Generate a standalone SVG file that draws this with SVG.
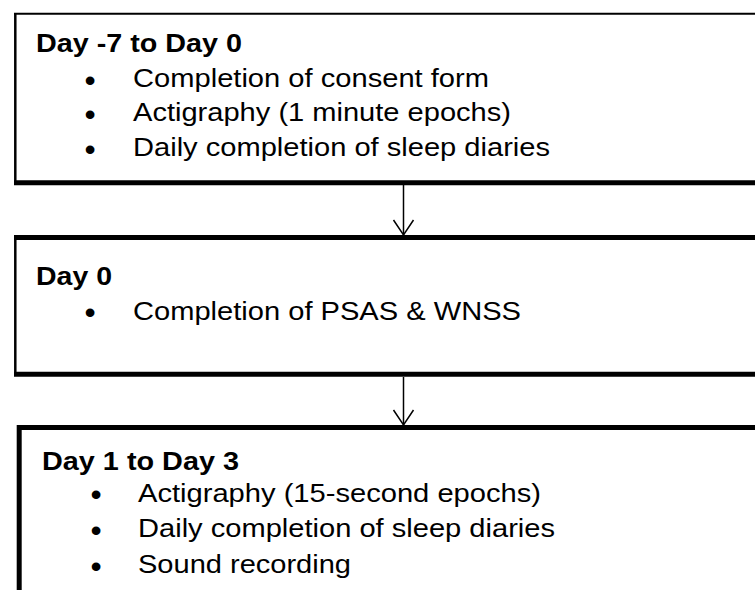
<svg xmlns="http://www.w3.org/2000/svg" width="755" height="590" viewBox="0 0 755 590">
<style>
.edge{stroke:#000;fill:none}
.t{font-family:"Liberation Sans",Arial,Helvetica,sans-serif;font-size:25px;fill:#000}
.b{font-weight:bold}
.bu{font-family:"Liberation Sans",Arial,Helvetica,sans-serif;font-size:32px;fill:#000}
.conn{stroke:#000;stroke-width:1.5;fill:none}
</style>
<defs>
<marker id="arr" viewBox="-16 -12 18 24" refX="0" refY="0" markerWidth="18" markerHeight="24" markerUnits="userSpaceOnUse" orient="auto">
<path d="M -15 -10 L 0 0 L -15 10" fill="none" stroke="#000" stroke-width="1.5"/>
</marker>
</defs>
<rect width="755" height="590" fill="#fff"/>
<g id="node-day-7">
<rect x="15" y="13.5" width="760" height="169" fill="#fff"/>
<line class="edge" x1="14" y1="13.7" x2="760" y2="13.7" stroke-width="2"/>
<line class="edge" x1="15.3" y1="13" x2="15.3" y2="183" stroke-width="2.5"/>
<line class="edge" x1="14" y1="182.7" x2="760" y2="182.7" stroke-width="5"/>
<text class="t b" x="36" y="51.5" textLength="206" lengthAdjust="spacingAndGlyphs">Day -7 to Day 0</text>
<text class="bu" x="84.4" y="90.7">•</text>
<text class="t" x="133" y="86.5" textLength="356" lengthAdjust="spacingAndGlyphs">Completion of consent form</text>
<text class="bu" x="84.4" y="125.2">•</text>
<text class="t" x="133" y="121" textLength="378" lengthAdjust="spacingAndGlyphs">Actigraphy (1 minute epochs)</text>
<text class="bu" x="84.4" y="159.7">•</text>
<text class="t" x="133" y="155.5" textLength="417" lengthAdjust="spacingAndGlyphs">Daily completion of sleep diaries</text>
</g>
<g id="node-day0">
<rect x="15" y="237.5" width="760" height="137" fill="#fff"/>
<line class="edge" x1="14" y1="237.5" x2="760" y2="237.5" stroke-width="5"/>
<line class="edge" x1="15.3" y1="237" x2="15.3" y2="375" stroke-width="2.5"/>
<line class="edge" x1="14" y1="374.2" x2="760" y2="374.2" stroke-width="5"/>
<text class="t b" x="36" y="285" textLength="76" lengthAdjust="spacingAndGlyphs">Day 0</text>
<text class="bu" x="84.4" y="322.7">•</text>
<text class="t" x="133" y="319.5" textLength="388" lengthAdjust="spacingAndGlyphs">Completion of PSAS &amp; WNSS</text>
</g>
<g id="node-day1-3">
<rect x="19" y="427.5" width="760" height="170" fill="#fff"/>
<line class="edge" x1="17" y1="427.5" x2="760" y2="427.5" stroke-width="5"/>
<line class="edge" x1="19.2" y1="425" x2="19.2" y2="595" stroke-width="5"/>
<text class="t b" x="42" y="469.5" textLength="197" lengthAdjust="spacingAndGlyphs">Day 1 to Day 3</text>
<text class="bu" x="90.4" y="505.2">•</text>
<text class="t" x="138" y="501.5" textLength="403" lengthAdjust="spacingAndGlyphs">Actigraphy (15-second epochs)</text>
<text class="bu" x="90.4" y="540.7">•</text>
<text class="t" x="138" y="537" textLength="417" lengthAdjust="spacingAndGlyphs">Daily completion of sleep diaries</text>
<text class="bu" x="90.4" y="576.7">•</text>
<text class="t" x="138" y="573" textLength="213" lengthAdjust="spacingAndGlyphs">Sound recording</text>
</g>
<g id="connectors">
<line class="conn" x1="403.5" y1="185" x2="403.5" y2="235" marker-end="url(#arr)"/>
<line class="conn" x1="403.5" y1="377" x2="403.5" y2="425" marker-end="url(#arr)"/>
</g>
</svg>
